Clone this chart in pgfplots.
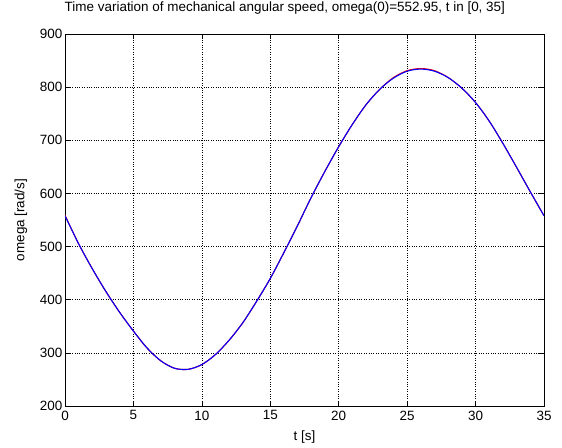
\documentclass[border=0pt]{standalone}
\usepackage{fontspec}
\setmainfont{Liberation Sans}
\usepackage{pgfplots}
\pgfplotsset{compat=1.18}
\begin{document}
\fontsize{13.5}{16}\selectfont
\begin{tikzpicture}
\path[use as bounding box] (-65bp,-42bp) rectangle (497bp,406bp);
\begin{axis}[
    at={(0,0)}, anchor=south west,
    scale only axis,
    width=479bp, height=372bp,
    xmin=0, xmax=35, ymin=200, ymax=900,
    xtick={0,5,...,35}, ytick={200,300,...,900},
    tick align=inside, major tick length=5bp,
    grid=major,
    grid style={black, dotted, line width=0.6pt},
    axis line style={black, line width=0.9pt},
    tick style={black, line width=0.6pt},
    /pgf/number format/assume math mode=true,
    ticklabel style={font=\fontsize{13.5}{16}\selectfont},
    yticklabel style={inner sep=2.5bp},
    title={Time variation of mechanical angular speed, omega(0)=552.95, t in [0, 35]},
    title style={at={(axis description cs:0.459,1.054)}, anchor=center, font=\fontsize{13.5}{16}\selectfont},
    xlabel={t [s]},
    xlabel style={at={(axis description cs:0.5,-0.083)}, anchor=center},
    ylabel={omega [rad/s]},
    ylabel style={at={(axis description cs:-0.092,0.5)}, anchor=center},
]
\addplot[red, line width=1.1pt, smooth] coordinates {
(0,559) (1,505) (2,458) (3,415) (4,376) (5,341) (6,309) (7,285) (8,271)
(9,269) (10,278) (11,297) (12,324) (13,357) (14,397) (15,440)
(16,489) (17,540) (18,593) (19,642) (20,688) (21,730) (22,767) (23,796)
(24,818) (25,831) (26,835) (27,831) (28,818) (29,798) (30,771) (31,736)
(32,694) (33,649) (34,603) (35,558)
};
\addplot[blue, line width=1.1pt, smooth] coordinates {
(0,558) (1,505) (2,458) (3,415) (4,376) (5,341) (6,309) (7,285) (8,271)
(9,269) (10,278) (11,297) (12,324) (13,357) (14,397) (15,440)
(16,489) (17,540) (18,593) (19,642) (20,688) (21,730) (22,767) (23,796)
(24,817) (25,830) (26,834) (27,830) (28,818) (29,798) (30,771) (31,736)
(32,694) (33,649) (34,603) (35,558)
};
\end{axis}
\end{tikzpicture}
\end{document}
